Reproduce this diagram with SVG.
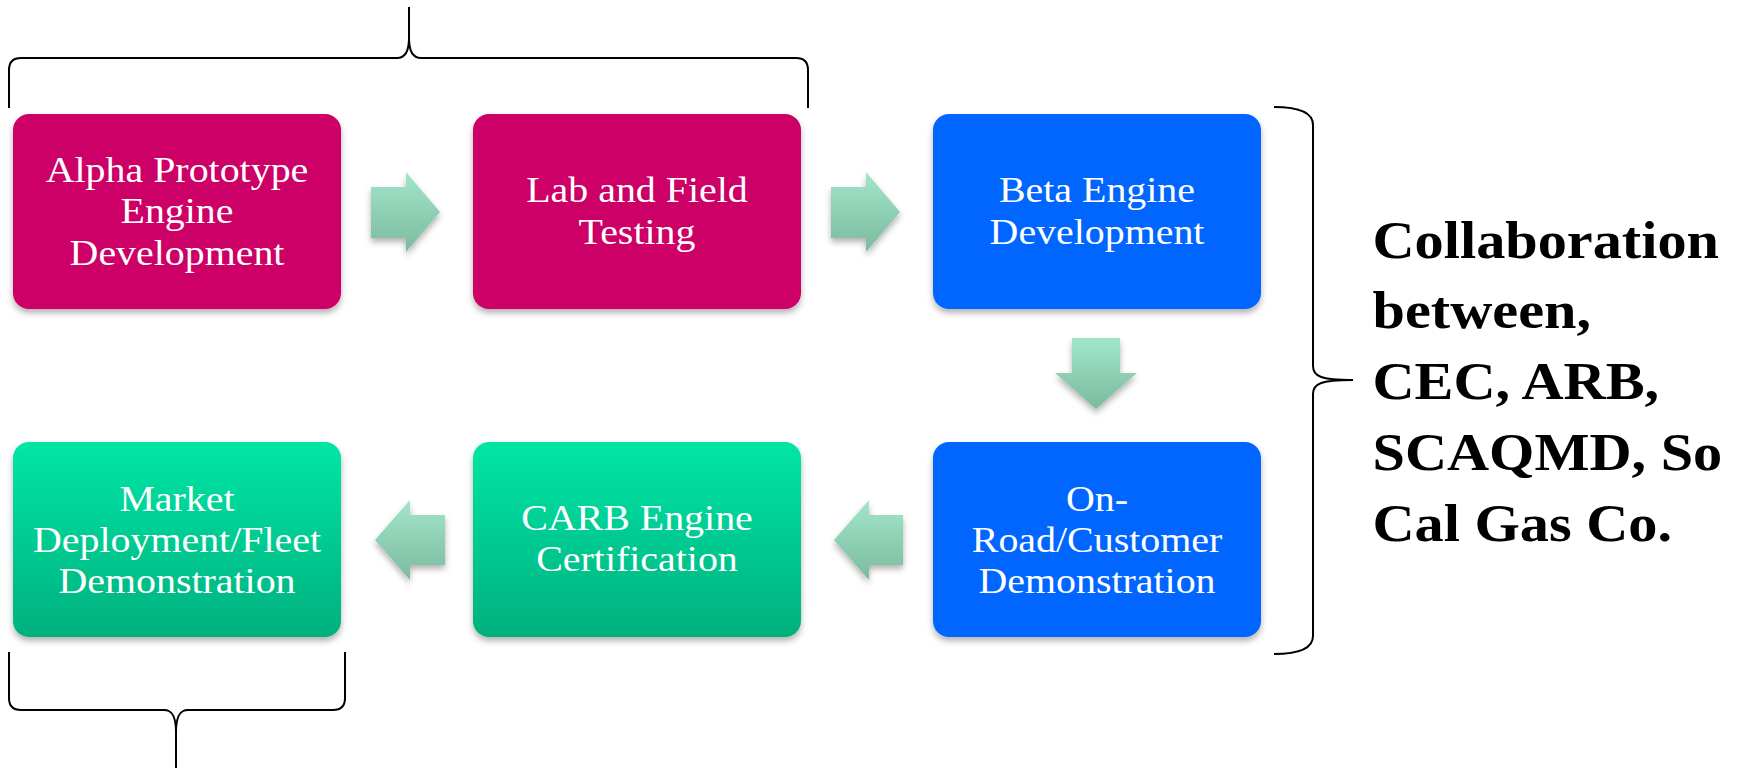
<svg xmlns="http://www.w3.org/2000/svg" width="1737" height="770" viewBox="0 0 1737 770">
  <defs>
    <linearGradient id="gGreen" x1="0" y1="0" x2="0" y2="1">
      <stop offset="0" stop-color="#00E6A6"/>
      <stop offset="1" stop-color="#00B07D"/>
    </linearGradient>
    <linearGradient id="gArrow" x1="0" y1="0" x2="0" y2="1">
      <stop offset="0" stop-color="#A2E6CA"/>
      <stop offset="1" stop-color="#7BBA9F"/>
    </linearGradient>
    <filter id="shadow" x="-10%" y="-10%" width="120%" height="125%">
      <feDropShadow dx="0" dy="4" stdDeviation="3" flood-color="#000" flood-opacity="0.3"/>
    </filter>
    <style>
      .box { filter: url(#shadow); }
      .magenta { fill: #CC0066; }
      .blue { fill: #0066FF; }
      .green { fill: url(#gGreen); }
      .lbl { font-family: "Liberation Serif", "Times New Roman", serif; font-size: 35px; fill: #FFFFFF; text-anchor: middle; }
      .arrow { fill: url(#gArrow); filter: url(#shadow); }
      .brace { fill: none; stroke: #000; stroke-width: 2; }
      .note { font-family: "Liberation Serif", "Times New Roman", serif; font-size: 53px; font-weight: bold; fill: #000; }
    </style>
  </defs>

  <g id="braces">
    <path class="brace" d="M9,108 V70 Q9,58 21,58 H397 C405,58 409,52 409,38 V7 M409,38 C409,52 413,58 421,58 H796 Q808,58 808,70 V108"/>
    <path class="brace" d="M1274,107 Q1313,107 1313,125 V366 C1313,376 1320,380 1353,380 C1320,380 1313,384 1313,394 V636 Q1313,654 1274,654"/>
    <path class="brace" d="M9,652 V698 Q9,710 21,710 H164 C172,710 176,716 176,732 V768 M176,732 C176,716 180,710 188,710 H333 Q345,710 345,698 V652"/>
  </g>

  <g id="connectors">
    <path class="arrow" d="M371,187 H406 V172 L440,212 L406,252 V238 H371 Z"/>
    <path class="arrow" d="M831,187 H866 V172 L900,212 L866,252 V238 H831 Z"/>
    <path class="arrow" d="M1072,338 H1120 V373 H1137 L1096,409 L1055,373 H1072 Z"/>
    <path class="arrow" d="M903,515 H869 V500 L834,540 L869,580 V565 H903 Z"/>
    <path class="arrow" d="M445,515 H410 V500 L375,540 L410,580 V565 H445 Z"/>
  </g>

  <g id="node-alpha">
    <rect class="box magenta" x="13" y="114" width="328" height="195" rx="16"/>
    <text class="lbl" transform="translate(177,0) scale(1.14,1)"><tspan x="0" y="182">Alpha Prototype</tspan><tspan x="0" y="223.5">Engine</tspan><tspan x="0" y="265">Development</tspan></text>
  </g>
  <g id="node-lab">
    <rect class="box magenta" x="473" y="114" width="328" height="195" rx="16"/>
    <text class="lbl" transform="translate(637,0) scale(1.14,1)"><tspan x="0" y="202.5">Lab and Field</tspan><tspan x="0" y="244">Testing</tspan></text>
  </g>
  <g id="node-beta">
    <rect class="box blue" x="933" y="114" width="328" height="195" rx="16"/>
    <text class="lbl" transform="translate(1097,0) scale(1.14,1)"><tspan x="0" y="202.5">Beta Engine</tspan><tspan x="0" y="244">Development</tspan></text>
  </g>
  <g id="node-onroad">
    <rect class="box blue" x="933" y="442" width="328" height="195" rx="16"/>
    <text class="lbl" transform="translate(1097,0) scale(1.14,1)"><tspan x="0" y="511">On-</tspan><tspan x="0" y="552">Road/Customer</tspan><tspan x="0" y="593">Demonstration</tspan></text>
  </g>
  <g id="node-carb">
    <rect class="box green" x="473" y="442" width="328" height="195" rx="16"/>
    <text class="lbl" transform="translate(637,0) scale(1.14,1)"><tspan x="0" y="530">CARB Engine</tspan><tspan x="0" y="571">Certification</tspan></text>
  </g>
  <g id="node-market">
    <rect class="box green" x="13" y="442" width="328" height="195" rx="16"/>
    <text class="lbl" transform="translate(177,0) scale(1.14,1)"><tspan x="0" y="511">Market</tspan><tspan x="0" y="552">Deployment/Fleet</tspan><tspan x="0" y="593">Demonstration</tspan></text>
  </g>

  <g id="note">
    <text class="note" transform="translate(1372.5,0) scale(1.1,1)"><tspan x="0" y="258">Collaboration</tspan><tspan x="0" y="328">between,</tspan><tspan x="0" y="399">CEC, ARB,</tspan><tspan x="0" y="470">SCAQMD, So</tspan><tspan x="0" y="541">Cal Gas Co.</tspan></text>
  </g>
</svg>
